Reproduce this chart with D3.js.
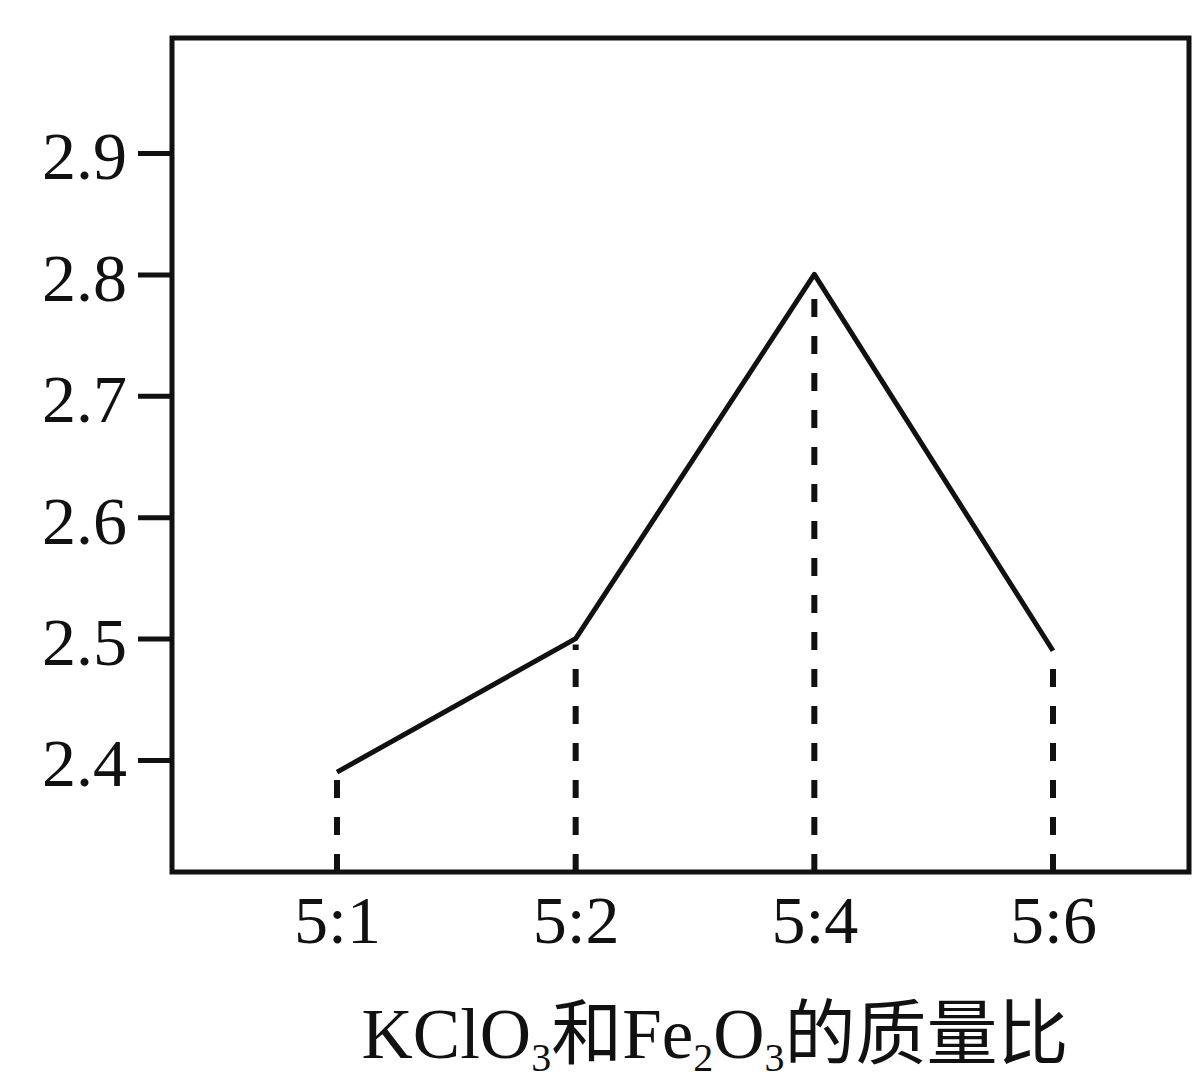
<!DOCTYPE html>
<html>
<head>
<meta charset="utf-8">
<script src="https://cdn.jsdelivr.net/npm/d3@7"></script>
<style>
  html, body { margin: 0; padding: 0; background: #fff; }
  svg { display: block; }
</style>
</head>
<body>
<svg id="chart" width="1192" height="1085"></svg>
<script>
const categories = ["5:1", "5:2", "5:4", "5:6"];
const values = [2.39, 2.5, 2.8, 2.49];
const yTicks = [2.4, 2.5, 2.6, 2.7, 2.8, 2.9];

const svg = d3.select("#chart");
const font = "'Liberation Serif', 'Times New Roman', 'Noto Sans CJK SC', serif";
const ink = "#111";

const box = { left: 172, right: 1189, top: 38, bottom: 872 };

const y = d3.scaleLinear().domain([2.3, 3.0]).range([881.4, 31.6]);
const x = d3.scalePoint().domain(categories).range([337, 1053]);

// dashed drop lines
svg.append("g").selectAll("line")
  .data(categories)
  .join("line")
  .attr("x1", d => x(d)).attr("x2", d => x(d))
  .attr("y1", box.bottom)
  .attr("y2", (d, i) => y(values[i]) + 6)
  .attr("stroke", ink)
  .attr("stroke-width", 6)
  .attr("stroke-dasharray", "18,19");

// main line
const line = d3.line().x((d, i) => x(categories[i])).y(d => y(d));
svg.append("path")
  .datum(values)
  .attr("d", line)
  .attr("fill", "none")
  .attr("stroke", ink)
  .attr("stroke-width", 5)
  .attr("stroke-linejoin", "round");

// frame
svg.append("rect")
  .attr("x", box.left).attr("y", box.top)
  .attr("width", box.right - box.left)
  .attr("height", box.bottom - box.top)
  .attr("fill", "none")
  .attr("stroke", ink)
  .attr("stroke-width", 5);

// y axis
const yAxis = svg.append("g")
  .attr("transform", `translate(${box.left},0)`)
  .call(d3.axisLeft(y).tickValues(yTicks).tickSize(34).tickPadding(11).tickFormat(d3.format(".1f")));
yAxis.select(".domain").remove();
yAxis.selectAll("line").attr("stroke", ink).attr("stroke-width", 5);
yAxis.selectAll("text")
  .attr("font-family", font).attr("font-size", 68).attr("fill", ink)
  .attr("dy", "0.38em");

// x axis
const xAxis = svg.append("g")
  .attr("transform", `translate(0,${box.bottom})`)
  .call(d3.axisBottom(x).tickSize(0).tickPadding(23));
xAxis.select(".domain").remove();
xAxis.selectAll("text")
  .attr("font-family", font).attr("font-size", 68).attr("fill", ink);

// x axis title with subscripts
const title = svg.append("text")
  .attr("x", 715).attr("y", 1058)
  .attr("text-anchor", "middle")
  .attr("font-family", font)
  .attr("font-size", 71)
  .attr("fill", ink);
const parts = [
  ["KClO", false], ["3", true], ["和Fe", false], ["2", true],
  ["O", false], ["3", true], ["的质量比", false]
];
let prevSub = false;
parts.forEach(([t, sub]) => {
  let dy = 0;
  if (sub && !prevSub) dy = 13;
  if (!sub && prevSub) dy = -13;
  title.append("tspan")
    .attr("font-size", sub ? 40 : 71)
    .attr("dy", dy)
    .text(t);
  prevSub = sub;
});
</script>
</body>
</html>
